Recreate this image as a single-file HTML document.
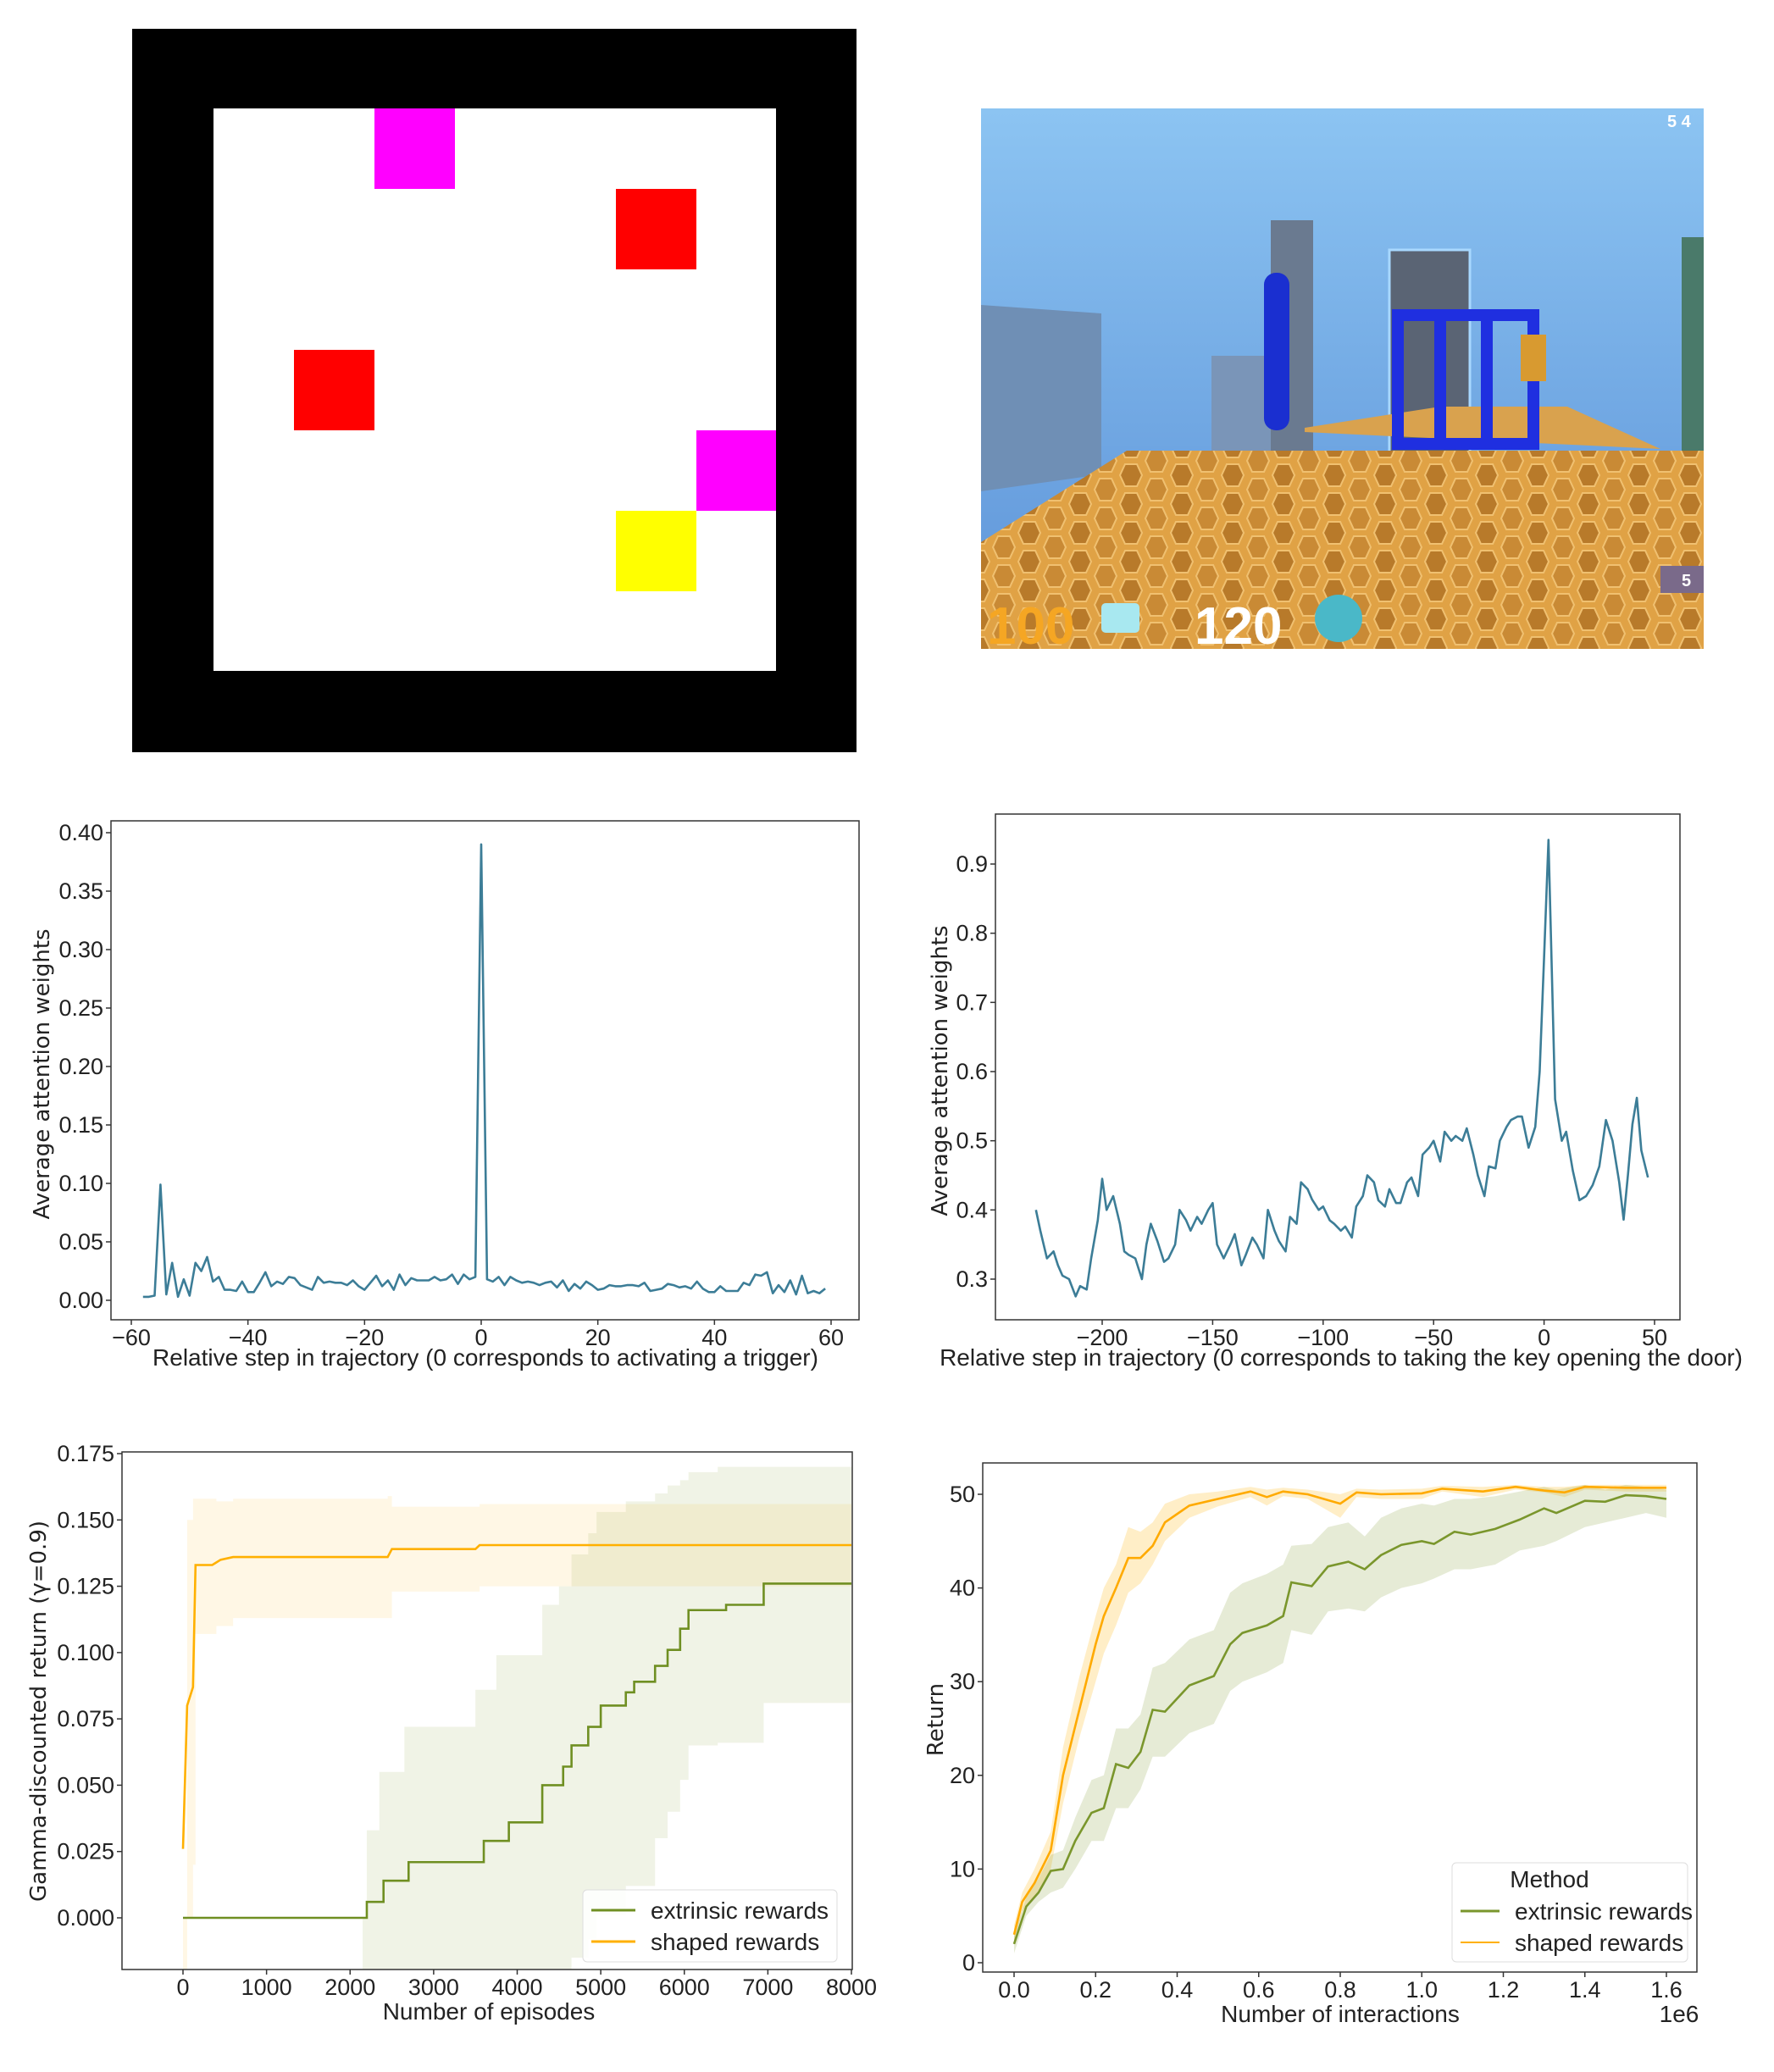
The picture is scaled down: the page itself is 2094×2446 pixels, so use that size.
<!DOCTYPE html>
<html><head><meta charset="utf-8">
<style>
html,body{margin:0;padding:0;background:#fff;}
svg{display:block;}
.tick{font-family:"Liberation Sans Narrow","Liberation Sans",sans-serif;font-size:27px;fill:#222;}
.alab{font-family:"Liberation Sans Narrow","Liberation Sans",sans-serif;font-size:28px;fill:#222;}
.ylab{font-family:"DejaVu Sans","Liberation Sans",sans-serif;font-size:26px;fill:#222;}
.leg{font-family:"Liberation Sans Narrow","Liberation Sans",sans-serif;font-size:28px;fill:#222;}
</style></head>
<body>
<svg id="root" width="2094" height="2446" viewBox="0 0 2094 2446" xmlns="http://www.w3.org/2000/svg">
  <defs>
    <linearGradient id="sky" x1="0" y1="0" x2="0" y2="1">
      <stop offset="0" stop-color="#8cc4f2"/><stop offset="1" stop-color="#5d93d8"/>
    </linearGradient>
    <pattern id="hex" width="60" height="34" patternUnits="userSpaceOnUse">
      <rect width="60" height="34" fill="#e0a245"/>
      <polygon points="8,4 22,4 28,17 22,30 8,30 2,17" fill="#b87a2a" stroke="#f0c070" stroke-width="2"/>
      <polygon points="38,-13 52,-13 58,0 52,13 38,13 32,0" fill="#c98a35" stroke="#f0c070" stroke-width="2"/>
      <polygon points="38,21 52,21 58,34 52,47 38,47 32,34" fill="#c98a35" stroke="#f0c070" stroke-width="2"/>
    </pattern>
  </defs>

  <g>
    <rect x="156" y="34" width="855" height="854" fill="#000"/>
    <rect x="252" y="128" width="664" height="664" fill="#fff"/>
    <rect x="442" y="128" width="95" height="95" fill="#ff00ff"/>
    <rect x="727" y="223" width="95" height="95" fill="#ff0000"/>
    <rect x="347" y="413" width="95" height="95" fill="#ff0000"/>
    <rect x="822" y="508" width="94" height="95" fill="#ff00ff"/>
    <rect x="727" y="603" width="95" height="95" fill="#ffff00"/>
  </g>

  <g>
    <rect x="1158" y="128" width="853" height="638" fill="url(#sky)"/>
    <polygon points="1158,360 1300,370 1300,560 1158,580" fill="#6f8fb5"/>
    <rect x="1500" y="260" width="50" height="280" fill="#6a7a90"/>
    <rect x="1640" y="295" width="95" height="240" fill="#5a6474" stroke="#a8d8ff" stroke-width="3"/>
    <rect x="1430" y="420" width="70" height="120" fill="#7a95b8"/>
    <rect x="1985" y="280" width="26" height="260" fill="#4a7a6a"/>
    <polygon points="1158,640 1330,532 2011,532 2011,766 1158,766" fill="url(#hex)"/>
    <polygon points="1540,505 1700,480 1850,480 1960,530 1540,510" fill="#d9a24e"/>
    <rect x="1492" y="322" width="30" height="186" rx="14" fill="#1a2fd0"/>
    <g fill="none" stroke="#1f2fe0" stroke-width="14">
      <rect x="1650" y="372" width="160" height="152"/>
      <line x1="1700" y1="372" x2="1700" y2="524"/>
      <line x1="1755" y1="372" x2="1755" y2="524"/>
    </g>
    <rect x="1795" y="395" width="30" height="55" fill="#d89a30"/>
    <text x="1165" y="760" font-family="Liberation Sans, sans-serif" font-weight="bold" font-size="62" fill="#f5a623">100</text>
    <rect x="1300" y="712" width="45" height="35" rx="5" fill="#a8e8f0"/>
    <text x="1410" y="760" font-family="Liberation Sans, sans-serif" font-weight="bold" font-size="62" fill="#fff">120</text>
    <circle cx="1580" cy="730" r="28" fill="#4ab8c8"/>
    <text x="1968" y="150" font-family="Liberation Sans, sans-serif" font-weight="bold" font-size="20" fill="#fff">5 4</text>
    <rect x="1960" y="668" width="51" height="32" fill="#7a6a8a"/>
    <text x="1985" y="692" font-family="Liberation Sans, sans-serif" font-weight="bold" font-size="20" fill="#fff">5</text>
  </g>

  <g id="charts"></g>
</svg>

<script>
// ---------- Chart A data ----------
const aSteps = [-58,-57,-56,-55,-54,-53,-52,-51,-50,-49,-48,-47,-46,-45,-44,-43,-42,-41,-40,-39,-38,-37,-36,-35,-34,-33,-32,-31,-30,-29,-28,-27,-26,-25,-24,-23,-22,-21,-20,-19,-18,-17,-16,-15,-14,-13,-12,-11,-10,-9,-8,-7,-6,-5,-4,-3,-2,-1,0,1,2,3,4,5,6,7,8,9,10,11,12,13,14,15,16,17,18,19,20,21,22,23,24,25,26,27,28,29,30,31,32,33,34,35,36,37,38,39,40,41,42,43,44,45,46,47,48,49,50,51,52,53,54,55,56,57,58,59];
const aValues = [.003,.003,.004,.099,.005,.032,.003,.018,.004,.032,.025,.037,.016,.02,.009,.009,.008,.016,.007,.007,.015,.024,.012,.016,.014,.02,.019,.013,.011,.009,.02,.015,.016,.015,.015,.013,.017,.012,.009,.015,.021,.012,.017,.009,.022,.013,.019,.017,.017,.017,.02,.017,.018,.022,.014,.022,.018,.02,.39,.018,.016,.02,.013,.02,.017,.015,.016,.015,.013,.015,.016,.011,.017,.008,.014,.01,.016,.013,.009,.01,.013,.012,.012,.013,.013,.012,.015,.008,.009,.01,.014,.013,.011,.012,.01,.016,.01,.007,.007,.012,.008,.008,.008,.015,.013,.022,.021,.024,.006,.013,.007,.017,.005,.021,.006,.008,.006,.01];
const aXTicks = [-60,-40,-20,0,20,40,60];
const aYTicks = [0,0.05,0.10,0.15,0.20,0.25,0.30,0.35,0.40];

// ---------- Chart B data ----------
const bSteps = [-230,-228,-225,-222,-220,-218,-215,-212,-210,-207,-205,-202,-200,-198,-195,-192,-190,-188,-185,-182,-180,-178,-175,-172,-170,-167,-165,-162,-160,-157,-155,-152,-150,-148,-145,-142,-140,-137,-135,-132,-130,-127,-125,-122,-120,-117,-115,-112,-110,-107,-105,-102,-100,-97,-95,-92,-90,-87,-85,-82,-80,-77,-75,-72,-70,-67,-65,-62,-60,-57,-55,-52,-50,-47,-45,-42,-40,-37,-35,-32,-30,-27,-25,-22,-20,-17,-15,-12,-10,-7,-4,-2,0,2,5,8,10,13,16,19,22,25,28,31,34,36,38,40,42,44,47];
const bValues = [.40,.37,.33,.34,.32,.305,.30,.275,.29,.285,.33,.385,.445,.40,.42,.38,.34,.335,.33,.30,.35,.38,.355,.325,.33,.35,.40,.385,.37,.39,.38,.40,.41,.35,.33,.35,.365,.32,.335,.36,.35,.33,.40,.37,.355,.34,.39,.38,.44,.43,.415,.40,.405,.385,.38,.37,.376,.36,.405,.42,.45,.44,.414,.405,.43,.41,.41,.44,.447,.42,.48,.49,.50,.47,.513,.50,.507,.50,.518,.48,.45,.42,.463,.46,.50,.52,.53,.535,.535,.49,.52,.60,.765,.935,.56,.50,.513,.457,.414,.42,.436,.463,.53,.50,.44,.386,.452,.524,.562,.486,.447,.48,.44,.47,.507];
const bXTicks = [-200,-150,-100,-50,0,50];
const bYTicks = [0.3,0.4,0.5,0.6,0.7,0.8,0.9];

// ---------- Chart C data ----------
const cExtX = [0,2150,2200,2350,2400,2650,2700,3500,3600,3850,3900,4250,4300,4500,4550,4650,4800,4850,4950,5000,5250,5300,5400,5600,5650,5750,5800,5900,5950,6000,6050,6450,6500,6900,6950,8000];
const cExtY = [0,0,0.006,0.006,0.014,0.014,0.021,0.021,0.029,0.029,0.036,0.036,0.05,0.05,0.057,0.065,0.065,0.072,0.072,0.08,0.08,0.085,0.089,0.089,0.095,0.095,0.101,0.101,0.109,0.109,0.116,0.116,0.118,0.118,0.126,0.126];
const cExtBandX = [0,2150,2200,2350,2650,3500,3750,4250,4300,4500,4650,4850,4950,5300,5650,5800,5950,6050,6400,6950,8000];
const cExtHi = [0,0,0.033,0.055,0.072,0.086,0.099,0.099,0.118,0.125,0.137,0.145,0.153,0.157,0.16,0.163,0.165,0.168,0.17,0.17,0.17];
const cExtLo = [0,-0.025,-0.025,-0.025,-0.025,-0.025,-0.025,-0.025,-0.025,-0.025,-0.015,-0.008,0.001,0.012,0.03,0.04,0.052,0.065,0.066,0.081,0.081];
const cShX = [0,50,120,150,350,450,600,2450,2500,3500,3550,8000];
const cShY = [0.026,0.08,0.087,0.133,0.133,0.135,0.136,0.136,0.139,0.139,0.1405,0.1405];
const cShBandX = [0,50,120,150,300,400,600,2450,2500,3550,8000];
const cShHi = [0.0,0.15,0.158,0.158,0.158,0.157,0.158,0.159,0.155,0.156,0.156];
const cShLo = [-0.025,0.0,0.02,0.107,0.107,0.11,0.113,0.113,0.123,0.125,0.125];
const cXTicks = [0,1000,2000,3000,4000,5000,6000,7000,8000];
const cYTicks = [0,0.025,0.05,0.075,0.1,0.125,0.15,0.175];

// ---------- Chart D data ----------
const dShX = [0,0.02,0.05,0.09,0.12,0.16,0.2,0.22,0.25,0.28,0.31,0.34,0.37,0.43,0.5,0.58,0.62,0.66,0.72,0.8,0.84,0.9,1.0,1.05,1.15,1.23,1.3,1.35,1.4,1.5,1.6];
const dShY = [3,6.5,8.5,12,20,27,34,37,40,43.2,43.2,44.5,47,48.8,49.5,50.3,49.7,50.3,50,49,50.2,50,50.1,50.6,50.3,50.8,50.4,50.2,50.8,50.7,50.7];
const dShHi = [4,7.5,10,14,23,30.5,37,40,42.5,46.5,46,47,49,50,50.3,50.8,50.5,50.7,50.5,50,50.6,50.5,50.6,50.9,50.8,51,50.8,50.8,51,51,51];
const dShLo = [2,5.5,7,10,17,24,30,33,36,39.5,40.5,42.5,45,47.5,48.7,49.7,48.8,49.8,49.5,47.5,49.7,49.5,49.5,50.3,49.7,50.5,50.2,49.7,50.5,50.3,50.3];
const dExX = [0,0.03,0.06,0.09,0.12,0.15,0.19,0.22,0.25,0.28,0.31,0.34,0.37,0.43,0.49,0.53,0.56,0.62,0.66,0.68,0.73,0.77,0.82,0.86,0.9,0.95,1.0,1.03,1.08,1.12,1.18,1.24,1.3,1.33,1.4,1.45,1.5,1.55,1.6];
const dExY = [2,6,7.5,9.8,10,13,16,16.5,21.2,20.8,22.5,27,26.8,29.6,30.6,34,35.2,36,37,40.6,40.2,42.3,42.8,42,43.5,44.6,45,44.7,46,45.7,46.3,47.3,48.5,48,49.3,49.2,49.9,49.8,49.5];
const dExHi = [3,7,9,11.5,12,15.5,19.5,20,25,25,26.5,31.5,32,34.5,35.5,39.5,40.5,41.5,42.5,44.5,44.7,46.5,47,45.5,47.5,48.5,49,48.8,49.5,49.5,49.8,50.3,50.8,50.5,51,50.5,51,50.8,50.5];
const dExLo = [1,5,6.5,7.5,8,10,13,13,16.5,16.5,18.5,22,22,24.5,25.5,29,30,31,32,35.5,35,37.5,37.8,37.5,39,40,40.5,41,42,42,42.5,44,44.5,45,46.5,47,47.5,48,47.5];
const dXTicks = [0,0.2,0.4,0.6,0.8,1.0,1.2,1.4,1.6];
const dYTicks = [0,10,20,30,40,50];

const NS = 'http://www.w3.org/2000/svg';
const charts = document.getElementById('charts');
function mk(tag, attrs, parent) {
  const e = document.createElementNS(NS, tag);
  for (const k in attrs) e.setAttribute(k, attrs[k]);
  (parent || charts).appendChild(e);
  return e;
}
function scale(d0, d1, r0, r1) { return v => r0 + (v - d0) * (r1 - r0) / (d1 - d0); }

function axes(g, box, sx, sy, xt, yt, xfmt, yfmt) {
  const frame = mk('rect', {x: box.l, y: box.t, width: box.r - box.l, height: box.b - box.t, fill: 'none', stroke: '#333', 'stroke-width': 1.5}, g);
  
  
  xt.forEach(v => {
    const x = sx(v);
    mk('line', {x1: x, y1: box.b, x2: x, y2: box.b + 6, stroke: '#333', 'stroke-width': 1.5}, g);
    const t = mk('text', {x: x, y: box.b + 30, 'text-anchor': 'middle', class: 'tick'}, g);
    t.textContent = xfmt(v);
    
    
  });
  yt.forEach(v => {
    const y = sy(v);
    mk('line', {x1: box.l - 6, y1: y, x2: box.l, y2: y, stroke: '#333', 'stroke-width': 1.5}, g);
    const t = mk('text', {x: box.l - 9, y: y + 9, 'text-anchor': 'end', class: 'tick'}, g);
    t.textContent = yfmt(v);
    
    
  });
}
function label(g, x, y, txt, cls, rot, name) {
  const t = mk('text', {x: x, y: y, 'text-anchor': 'middle', class: cls}, g);
  if (rot) t.setAttribute('transform', 'rotate(-90 ' + x + ' ' + y + ')');
  t.textContent = txt;
  
  
}
function linePath(xs, ys, sx, sy) {
  return xs.map((v, i) => (i ? 'L' : 'M') + sx(v).toFixed(1) + ',' + sy(ys[i]).toFixed(1)).join(' ');
}
function stepPath(xs, ys, sx, sy) {
  let d = 'M' + sx(xs[0]) + ',' + sy(ys[0]);
  for (let i = 1; i < xs.length; i++) d += ' L' + sx(xs[i]) + ',' + sy(ys[i - 1]) + ' L' + sx(xs[i]) + ',' + sy(ys[i]);
  return d;
}
function bandPath(xs, lo, hi, sx, sy, step) {
  const top = step ? stepPath(xs, hi, sx, sy) : linePath(xs, hi, sx, sy);
  const rx = xs.slice().reverse(), rl = lo.slice().reverse();
  let d = top;
  if (step) {
    d += ' L' + sx(rx[0]) + ',' + sy(rl[0]);
    for (let i = 1; i < rx.length; i++) d += ' L' + sx(rx[i - 1]) + ',' + sy(rl[i]) + ' L' + sx(rx[i]) + ',' + sy(rl[i]);
  } else {
    rx.forEach((v, i) => d += ' L' + sx(v).toFixed(1) + ',' + sy(rl[i]).toFixed(1));
  }
  return d + ' Z';
}
const f2 = v => (v < 0 ? '\u2212' : '') + Math.abs(v).toFixed(2);
const f3 = v => v.toFixed(3);
const f1 = v => v.toFixed(1);
const fi = v => (v < 0 ? '\u2212' : '') + Math.abs(v);

// ---------- Chart A ----------
{
  const g = mk('g', {});
  
  
  const box = {l: 131, r: 1014, t: 969, b: 1558};
  const sx = scale(-60, 60, 155, 981);
  const sy = scale(0, 0.40, 1535, 983);
  axes(g, box, sx, sy, aXTicks, aYTicks, fi, f2);
  const p = mk('path', {d: linePath(aSteps, aValues, sx, sy), fill: 'none', stroke: '#3c7d97', 'stroke-width': 2.6, 'stroke-linejoin': 'round'}, g);
  
  
  label(g, 573, 1612, 'Relative step in trajectory (0 corresponds to activating a trigger)', 'alab', false, 'x-axis-title');
  label(g, 58, 1268, 'Average attention weights', 'ylab', true, 'y-axis-title');
}

// ---------- Chart B ----------
{
  const g = mk('g', {});
  
  
  const box = {l: 1175, r: 1983, t: 961, b: 1558};
  const sx = scale(-200, 50, 1301, 1953);
  const sy = scale(0.3, 0.9, 1510, 1020);
  axes(g, box, sx, sy, bXTicks, bYTicks, fi, f1);
  const p = mk('path', {d: linePath(bSteps, bValues, sx, sy), fill: 'none', stroke: '#3c7d97', 'stroke-width': 2.6, 'stroke-linejoin': 'round'}, g);
  
  
  label(g, 1583, 1612, 'Relative step in trajectory (0 corresponds to taking the key opening the door)', 'alab', false, 'x-axis-title');
  label(g, 1118, 1264, 'Average attention weights', 'ylab', true, 'y-axis-title');
}

// ---------- Chart C ----------
{
  const g = mk('g', {});
  
  
  const box = {l: 144, r: 1006, t: 1714, b: 2325};
  const sx = scale(0, 8000, 216, 1005);
  const sy = scale(0, 0.175, 2264, 1716);
  const clip = mk('clipPath', {id: 'clipC'}, g);
  mk('rect', {x: box.l, y: box.t, width: box.r - box.l, height: box.b - box.t}, clip);
  const inner = mk('g', {'clip-path': 'url(#clipC)'}, g);
  const b1 = mk('path', {d: bandPath(cShBandX, cShLo, cShHi, sx, sy, true), fill: '#ffb000', 'fill-opacity': 0.1}, inner);
  
  
  const b2 = mk('path', {d: bandPath(cExtBandX, cExtLo, cExtHi, sx, sy, true), fill: '#809a30', 'fill-opacity': 0.12}, inner);
  
  
  const l1 = mk('path', {d: stepPath(cExtX, cExtY, sx, sy), fill: 'none', stroke: '#6f8f22', 'stroke-width': 2.6}, inner);
  
  
  const l2 = mk('path', {d: linePath(cShX, cShY, sx, sy), fill: 'none', stroke: '#ffb000', 'stroke-width': 2.6}, inner);
  
  
  axes(g, box, sx, sy, cXTicks, cYTicks, v => String(v), f3);
  label(g, 577, 2384, 'Number of episodes', 'alab', false, 'x-axis-title');
  label(g, 54, 2020, 'Gamma-discounted return (\u03b3=0.9)', 'ylab', true, 'y-axis-title');
  const lg = mk('g', {}, g);
  
  
  mk('rect', {x: 688, y: 2231, width: 300, height: 85, rx: 5, fill: '#fff', 'fill-opacity': 0.85, stroke: '#ddd'}, lg);
  mk('line', {x1: 698, y1: 2255, x2: 750, y2: 2255, stroke: '#6f8f22', 'stroke-width': 3}, lg);
  mk('line', {x1: 698, y1: 2292, x2: 750, y2: 2292, stroke: '#ffb000', 'stroke-width': 3}, lg);
  const t1 = mk('text', {x: 768, y: 2265, class: 'leg'}, lg); t1.textContent = 'extrinsic rewards';
  
  
  const t2 = mk('text', {x: 768, y: 2302, class: 'leg'}, lg); t2.textContent = 'shaped rewards';
  
  
}

// ---------- Chart D ----------
{
  const g = mk('g', {});
  
  
  const box = {l: 1160, r: 2003, t: 1727, b: 2328};
  const sx = scale(0, 1.6, 1197, 1967);
  const sy = scale(0, 50, 2317, 1764);
  const b1 = mk('path', {d: bandPath(dShX, dShLo, dShHi, sx, sy, false), fill: '#ffb000', 'fill-opacity': 0.22}, g);
  
  
  const b2 = mk('path', {d: bandPath(dExX, dExLo, dExHi, sx, sy, false), fill: '#809a30', 'fill-opacity': 0.2}, g);
  
  
  const l1 = mk('path', {d: linePath(dExX, dExY, sx, sy), fill: 'none', stroke: '#7a962c', 'stroke-width': 2.6}, g);
  
  
  const l2 = mk('path', {d: linePath(dShX, dShY, sx, sy), fill: 'none', stroke: '#ffaa00', 'stroke-width': 2.6}, g);
  
  
  axes(g, box, sx, sy, dXTicks, dYTicks, f1, v => String(v));
  label(g, 1582, 2387, 'Number of interactions', 'alab', false, 'x-axis-title');
  label(g, 1982, 2387, '1e6', 'alab', false, 'x-axis-offset');
  label(g, 1113, 2030, 'Return', 'ylab', true, 'y-axis-title');
  const lg = mk('g', {}, g);
  
  
  mk('rect', {x: 1714, y: 2199, width: 278, height: 117, rx: 5, fill: '#fff', 'fill-opacity': 0.85, stroke: '#ddd'}, lg);
  const th = mk('text', {x: 1829, y: 2228, 'text-anchor': 'middle', class: 'leg'}, lg); th.textContent = 'Method';
  
  
  mk('line', {x1: 1724, y1: 2256, x2: 1770, y2: 2256, stroke: '#7a962c', 'stroke-width': 3}, lg);
  mk('line', {x1: 1724, y1: 2293, x2: 1770, y2: 2293, stroke: '#ffb000', 'stroke-width': 2}, lg);
  const t1 = mk('text', {x: 1788, y: 2266, class: 'leg'}, lg); t1.textContent = 'extrinsic rewards';
  
  
  const t2 = mk('text', {x: 1788, y: 2303, class: 'leg'}, lg); t2.textContent = 'shaped rewards';
  
  
}
</script>
</body></html>
